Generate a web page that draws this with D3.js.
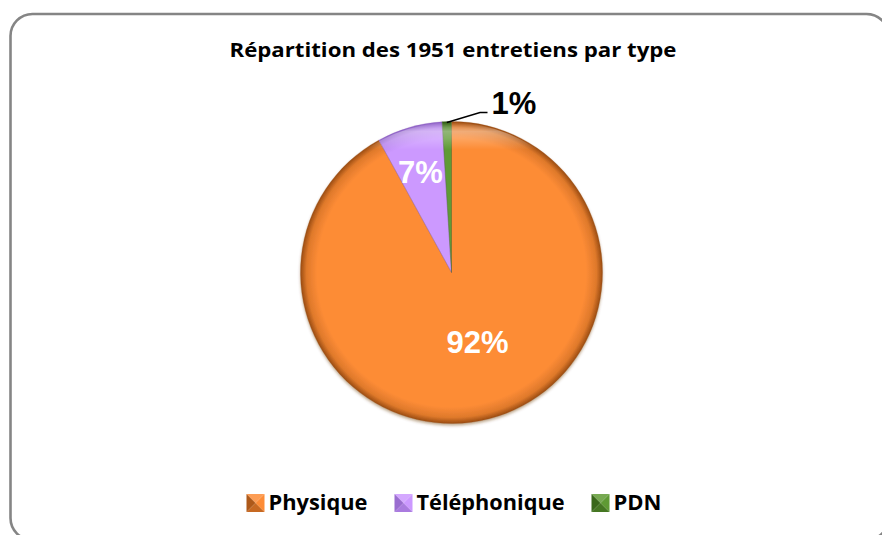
<!DOCTYPE html>
<html>
<head>
<meta charset="utf-8">
<script src="https://cdn.jsdelivr.net/npm/d3@7"></script>
<style>
  body { margin: 0; background: #fff; }
  svg { display: block; }
</style>
</head>
<body>
<div id="chart"></div>
<script>
(function() {
  'use strict';

  var title = 'Répartition des 1951 entretiens par type';
  var categories = ['Physique', 'Téléphonique', 'PDN'];
  var percents = [92, 7, 1];
  var colors = ['#fd8c36', '#cc99ff', '#5f9a34'];
  var darks = ['#9a4c12', '#8e62c4', '#2f5a14'];

  var width = 882, height = 535;
  var cx = 451.5, cy = 272.5, radius = 151;

  var svg = d3.select('#chart')
    .append('svg')
      .attr('width', width)
      .attr('height', height);

  var defs = svg.append('defs');

  // frame (runs off the right and bottom edges)
  svg.append('rect')
    .attr('x', 10.5)
    .attr('y', 14)
    .attr('width', 878)
    .attr('height', 526)
    .attr('rx', 22)
    .attr('fill', '#fff')
    .attr('stroke', '#858585')
    .attr('stroke-width', 2.6);

  // title, squeezed to the width it has in the picture
  svg.append('text')
    .attr('x', 453)
    .attr('y', 57)
    .attr('text-anchor', 'middle')
    .attr('textLength', 447)
    .attr('lengthAdjust', 'spacingAndGlyphs')
    .style('font-family', '"Open Sans", sans-serif')
    .style('font-weight', 'bold')
    .style('font-size', '19.5px')
    .attr('fill', '#000')
    .text(title);

  // gradients giving the bevelled look
  colors.forEach(function(c, i) {
    var g = defs.append('radialGradient')
      .attr('id', 'grad' + i)
      .attr('gradientUnits', 'userSpaceOnUse')
      .attr('cx', 0).attr('cy', 0).attr('r', radius);
    g.append('stop').attr('offset', '0%').attr('stop-color', c);
    g.append('stop').attr('offset', '89%').attr('stop-color', c);
    g.append('stop').attr('offset', '96%').attr('stop-color', d3.interpolateRgb(c, darks[i])(0.3));
    g.append('stop').attr('offset', '100%').attr('stop-color', darks[i]);
  });

  var hl = defs.append('linearGradient')
    .attr('id', 'hilite')
    .attr('x1', 0).attr('y1', 0).attr('x2', 0).attr('y2', 1);
  hl.append('stop').attr('offset', '0%').attr('stop-color', '#fff').attr('stop-opacity', 0.0);
  hl.append('stop').attr('offset', '3%').attr('stop-color', '#fff').attr('stop-opacity', 0.35);
  hl.append('stop').attr('offset', '9%').attr('stop-color', '#fff').attr('stop-opacity', 0.0);
  hl.append('stop').attr('offset', '100%').attr('stop-color', '#fff').attr('stop-opacity', 0);

  var shadow = defs.append('filter')
    .attr('id', 'shadow')
    .attr('x', '-10%').attr('y', '-10%')
    .attr('width', '120%').attr('height', '120%');
  shadow.append('feDropShadow')
    .attr('dx', 0).attr('dy', 2)
    .attr('stdDeviation', 1.5)
    .attr('flood-color', '#6b3a10')
    .attr('flood-opacity', 0.45);

  var pie = d3.pie().sort(null).value(function(d) { return d; });
  var arcs = pie(percents);
  var arc = d3.arc().innerRadius(0).outerRadius(radius);

  var g = svg.append('g')
    .attr('transform', 'translate(' + cx + ',' + cy + ')');

  g.append('g')
    .attr('filter', 'url(#shadow)')
    .selectAll('path.slice')
    .data(arcs)
    .enter().append('path')
      .attr('class', 'slice')
      .attr('d', arc)
      .attr('fill', function(d, i) { return 'url(#grad' + i + ')'; });

  // slice edges, a little darker
  g.selectAll('path.edge')
    .data(arcs)
    .enter().append('path')
      .attr('class', 'edge')
      .attr('d', arc)
      .attr('fill', 'none')
      .attr('stroke', function(d, i) { return darks[i]; })
      .attr('stroke-opacity', 0.35)
      .attr('stroke-width', 0.8);

  // top highlight
  g.append('circle')
    .attr('r', radius - 1)
    .attr('fill', 'url(#hilite)');

  // labels
  var labelStyle = function(sel) {
    sel.attr('text-anchor', 'middle')
      .style('font-family', '"Liberation Sans", Arial, sans-serif')
      .style('font-weight', 'bold')
      .style('font-size', '31px');
  };

  g.append('text')
    .call(labelStyle)
    .attr('x', 26)
    .attr('y', 80)
    .attr('fill', '#fff')
    .text(percents[0] + '%');

  var c1 = d3.arc().innerRadius(radius * 0.55).outerRadius(radius * 0.55).centroid(arcs[1]);
  g.append('text')
    .call(labelStyle)
    .attr('x', c1[0] - 8)
    .attr('y', c1[1] - 10)
    .attr('fill', '#fff')
    .text(percents[1] + '%');

  // outside label with leader line
  var mid = (arcs[2].startAngle + arcs[2].endAngle) / 2;
  var p0 = [Math.sin(mid) * (radius - 1), -Math.cos(mid) * (radius - 1)];
  var lx = 37, ly = -160;
  g.append('polyline')
    .attr('points', [p0, [28.5, ly], [lx - 1, ly]].map(function(p) { return p.join(','); }).join(' '))
    .attr('fill', 'none')
    .attr('stroke', '#000')
    .attr('stroke-width', 1.5);
  g.append('text')
    .call(labelStyle)
    .attr('text-anchor', 'start')
    .attr('x', lx + 3)
    .attr('y', ly + 1)
    .attr('fill', '#000')
    .text(percents[2] + '%');

  // legend
  var legendWidths = [99, 148, 48];
  var items = svg.append('g').selectAll('g.item')
    .data(categories)
    .enter().append('g')
      .attr('class', 'item');

  var box = 18, gapBox = 4, gapItem = 27;
  var total = d3.sum(legendWidths) + categories.length * (box + gapBox) + (categories.length - 1) * gapItem;
  var x = 454 - total / 2;

  items.each(function(d, i) {
    var it = d3.select(this);
    var x0 = x, y0 = 494;
    var c = colors[i];
    var faces = [
      { pts: [[0, 0], [box, 0], [box / 2, box / 2]], col: d3.interpolateRgb(c, '#fff')(0.15) },
      { pts: [[box, 0], [box, box], [box / 2, box / 2]], col: c },
      { pts: [[0, box], [box, box], [box / 2, box / 2]], col: d3.interpolateRgb(c, darks[i])(0.55) },
      { pts: [[0, 0], [0, box], [box / 2, box / 2]], col: d3.interpolateRgb(c, darks[i])(0.8) }
    ];
    faces.forEach(function(f) {
      it.append('polygon')
        .attr('points', f.pts.map(function(p) { return (x0 + p[0]) + ',' + (y0 + p[1]); }).join(' '))
        .attr('fill', f.col);
    });
    it.append('text')
      .attr('x', x0 + box + gapBox)
      .attr('y', 510)
      .attr('textLength', legendWidths[i])
      .attr('lengthAdjust', 'spacingAndGlyphs')
      .style('font-family', '"Open Sans", sans-serif')
      .style('font-weight', 'bold')
      .style('font-size', '20.5px')
      .attr('fill', '#000')
      .text(d);
    x += box + gapBox + legendWidths[i] + gapItem;
  });
})();
</script>
</body>
</html>
